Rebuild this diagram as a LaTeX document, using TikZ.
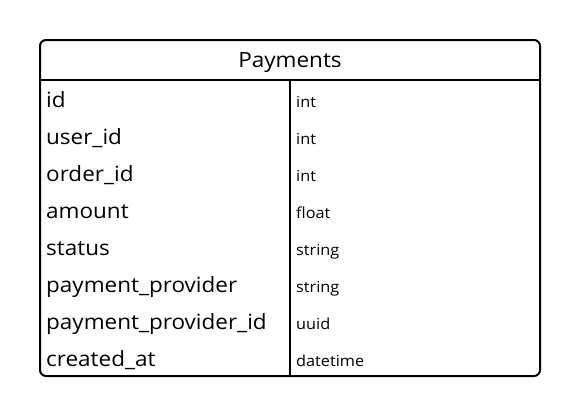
\documentclass[tikz,border=0pt]{standalone}
\usepackage{fontspec}
\setmainfont[FakeStretch=1.07]{Open Sans}
\begin{document}
\begin{tikzpicture}[x=1pt,y=-1pt,
  fieldname/.style={anchor=base west,inner sep=0pt,font=\fontsize{21}{25}\selectfont},
  fieldtype/.style={anchor=base west,inner sep=0pt,font=\fontsize{15.2}{18}\selectfont},
  title/.style={anchor=base,inner sep=0pt,font=\fontsize{21}{25}\selectfont},
  border/.style={line width=2pt,black}]
\useasboundingbox (0,0) rectangle (580,416);
\draw[border,rounded corners=6pt] (40,40) rectangle (540,376);
\coordinate (hl) at (40,80);
\coordinate (hr) at (540,80);
\coordinate (dt) at (290,80);
\coordinate (db) at (290,376);
\draw[border] (hl) -- (hr);
\draw[border] (dt) -- (db);
\node[title] (t) at (290,67.3) {Payments};
\foreach \n/\ty [count=\i from 0] in {id/int,user\_id/int,order\_id/int,amount/float,status/string,payment\_provider/string,payment\_provider\_id/uuid,created\_at/datetime}{
  \node[fieldname] (n\i) at (46,{107+37*\i}) {\n};
  \node[fieldtype] (ty\i) at (296,{107.5+37*\i}) {\ty};
}
\end{tikzpicture}
\end{document}
